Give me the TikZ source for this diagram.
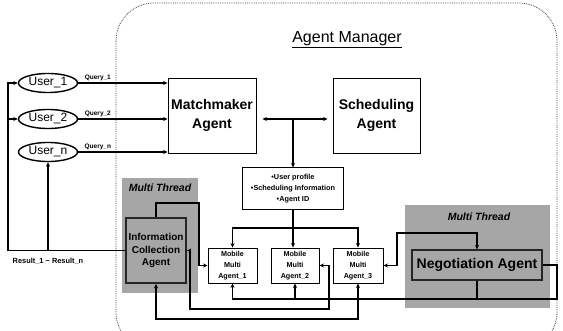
\documentclass[tikz,border=0pt]{standalone}
\usepackage{fontspec}
\setmainfont{Liberation Sans}
\usetikzlibrary{shapes.geometric,arrows.meta}
\begin{document}
\begin{tikzpicture}[x=1pt,y=-1pt,
  conn/.style={line width=1.5pt, draw=black, >={Stealth[length=4.5pt,width=4pt]}},
  userell/.style={ellipse, draw, line width=1.4pt, minimum width=59pt, minimum height=19pt, inner sep=0pt, font=\fontsize{12}{14}\selectfont},
  bigbox/.style={draw, line width=0.9pt, fill=white, minimum width=88pt, minimum height=75pt, inner sep=0pt, align=center, font=\fontsize{14}{19}\selectfont\bfseries},
  infobox/.style={draw, line width=1pt, fill=white, minimum width=101pt, minimum height=42pt, inner sep=0pt, align=center, font=\fontsize{7.3}{11}\selectfont\bfseries},
  mobbox/.style={draw, line width=0.9pt, fill=white, minimum width=49pt, minimum height=35pt, inner sep=0pt, align=center, font=\fontsize{7.2}{11}\selectfont\bfseries},
  threadreg/.style={fill=black!35, draw=none},
  threadlab/.style={font=\fontsize{10.5}{12}\selectfont\bfseries\itshape},
  qlab/.style={font=\fontsize{6.5}{8}\selectfont\bfseries, inner sep=1pt},
]
\useasboundingbox (0,0) rectangle (563,331);
\begin{scope}
  \clip (0,0) rectangle (563,331);
  \draw[densely dotted, line width=0.8pt, black!75, rounded corners=38pt] (116,3) rectangle (557,350);
\end{scope}
\node[font=\fontsize{16}{18}\selectfont] (title) at (347,40) {\underline{Agent Manager}};

% thread regions
\node[threadreg, minimum width=76pt, minimum height=115pt, inner sep=0pt] (mtl) at (160,235.5) {};
\node[threadlab] (mtllab) at (160,188) {Multi Thread};
\node[threadreg, minimum width=145pt, minimum height=103pt, inner sep=0pt] (mtr) at (477.5,256.5) {};
\node[threadlab] (mtrlab) at (479,217) {Multi Thread};

% users
\node[userell] (u1) at (48,83) {User\_1};
\node[userell] (u2) at (48,119) {User\_2};
\node[userell] (un) at (48,152) {User\_n};

% agents
\node[bigbox] (mm) at (212,115.5) {Matchmaker\\Agent};
\node[bigbox, minimum width=87pt] (sa) at (376.5,115.5) {Scheduling\\Agent};
\node[infobox] (info) at (293,189) {•User profile\\•Scheduling Information\\•Agent ID};
\node[mobbox] (ma1) at (232.5,265.5) {Mobile\\Multi\\Agent\_1};
\node[mobbox, minimum width=48pt] (ma2) at (295,265.5) {Mobile\\Multi\\Agent\_2};
\node[mobbox, minimum width=50pt] (ma3) at (358,265.5) {Mobile\\Multi\\Agent\_3};
\node[draw=black!85, line width=1.8pt, fill=black!35, minimum width=60pt, minimum height=65pt, inner sep=0pt, align=center, font=\fontsize{10}{12.5}\selectfont\bfseries] (ica) at (156,250.5) {Information\\Collection\\Agent};
\node[draw=black!85, line width=1.2pt, fill=black!35, minimum width=130pt, minimum height=30pt, inner sep=0pt, font=\fontsize{14}{16}\selectfont\bfseries] (neg) at (477,265) {Negotiation Agent};

% coordinates
\coordinate (rlx) at (8,250);
\coordinate (c1) at (199,203);
\coordinate (c2) at (190,309);
\coordinate (c3) at (329,309);
\coordinate (c4) at (0,319);
\coordinate (c5) at (557,299);
\coordinate (c6) at (397,233);
\coordinate (busy) at (0,228);
\path ([xshift=6pt,yshift=-3.5pt]mm.east) coordinate (da1);
\path ([xshift=-5pt,yshift=-3.5pt]sa.west) coordinate (da2);

% queries
\draw[conn,->] (u1.east) -- (u1.east -| mm.west) node[qlab, pos=0.22, above] {Query\_1};
\draw[conn,->] (u2.east) -- (u2.east -| mm.west) node[qlab, pos=0.22, above] {Query\_2};
\draw[conn,->] (un.east) -- (un.east -| mm.west) node[qlab, pos=0.22, above] {Query\_n};

% results
\draw[conn,->] (ica.west) -- (ica.west -| rlx) |- (u1.west);
\draw[conn,->] (rlx |- u2.west) -- (u2.west);
\draw[conn,->] (un.south |- ica.west) -- (un.south);
\node[font=\fontsize{7.4}{9}\selectfont\bfseries] (reslab) at (48,261) {Result\_1 \textasciitilde{} Result\_n};

% manager
\draw[conn,<->] (da1) -- (da2);
\draw[conn,->] (info.north |- da1) -- (info.north);
\draw[conn] (info.south) -- (info.south |- busy);
\draw[conn,<->] (ma1.north) |- (ma3.north |- busy) -- (ma3.north);
\draw[conn,->] (info.south |- busy) -- (info.south |- ma2.north);

% collection agent links
\draw[conn,->] (ica.north) |- (c1) |- (ma1.west);
\draw[conn,<->] (ica.east) -| (c2) -- (c3) |- (ma2.east);
\draw[conn,<->] (ica.south) |- (ma3.south |- c4) -- (ma3.south);

% negotiation links
\draw[conn,->] (neg.east) -| (c5) -| (ma1.south);
\draw[conn,->] (ma2.south |- c5) -- (ma2.south);
\draw[conn] (neg.south) -- (neg.south |- c5);
\draw[conn,<->] (ma3.east) -| (c6) -| (neg.north);
\end{tikzpicture}
\end{document}
